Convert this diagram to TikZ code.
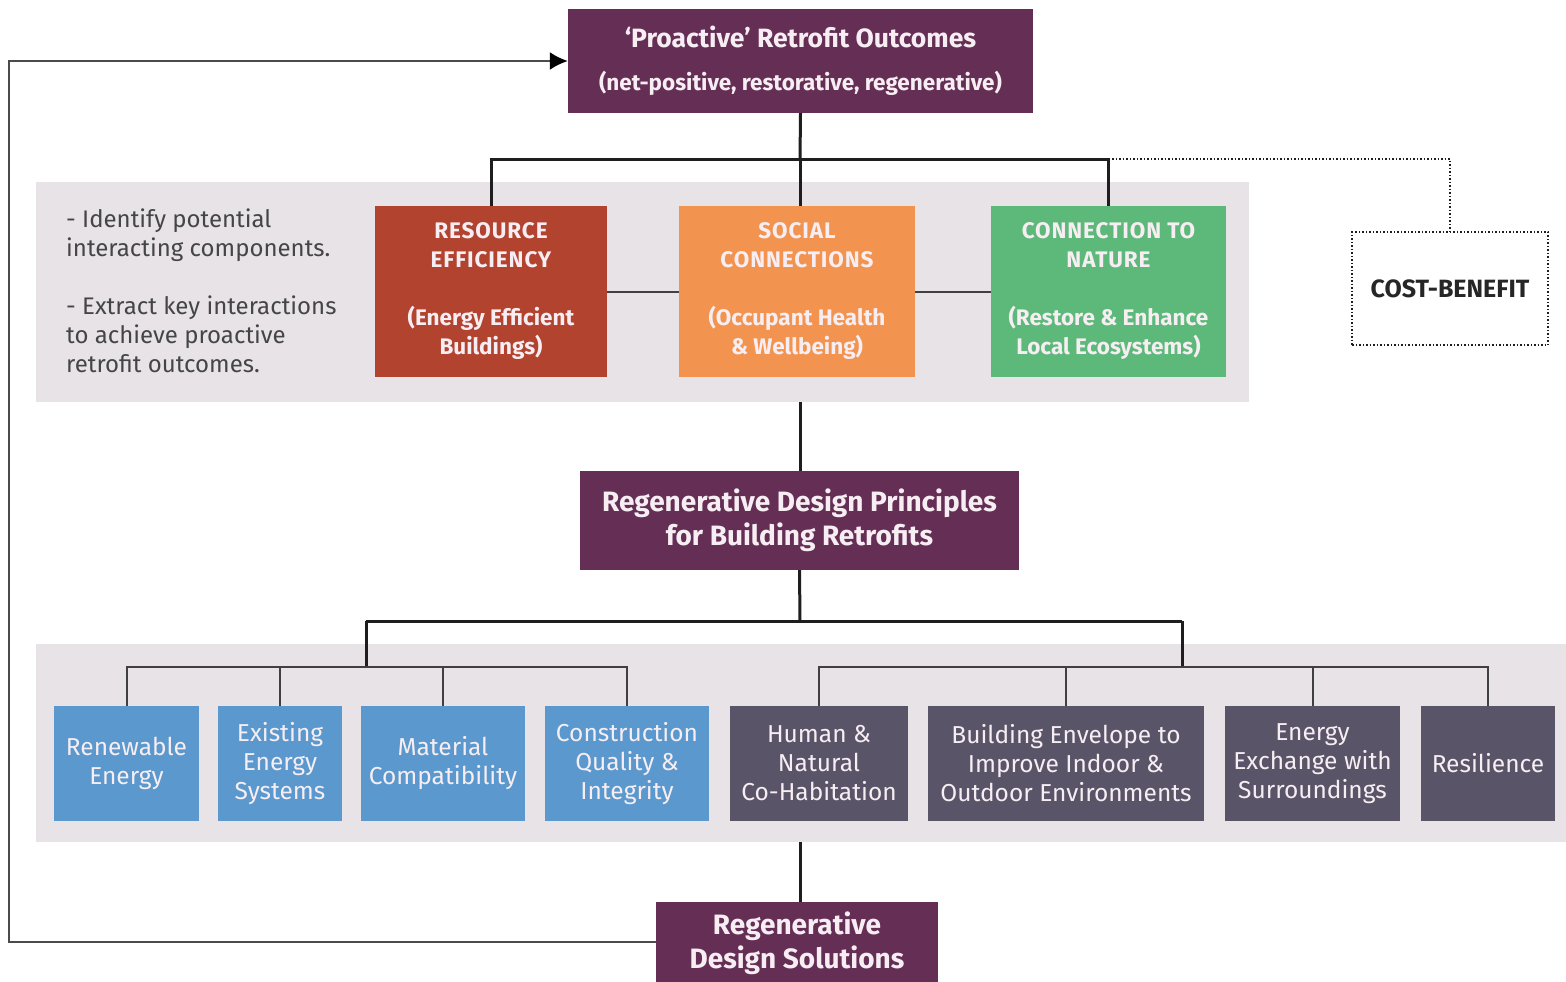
\documentclass[tikz,border=0pt]{standalone}
\usepackage{fontspec}
\setmainfont{Fira Sans}
\usetikzlibrary{arrows.meta}
\definecolor{cpurple}{HTML}{652F55}
\definecolor{cred}{HTML}{B2432F}
\definecolor{corange}{HTML}{F29450}
\definecolor{cgreen}{HTML}{5DB97A}
\definecolor{cblue}{HTML}{5A98CD}
\definecolor{cdark}{HTML}{5A5468}
\definecolor{cband}{HTML}{E7E3E7}
\definecolor{ctext}{HTML}{F7EEF3}
\definecolor{cline}{HTML}{1E1E1E}
\definecolor{cgreytext}{HTML}{454545}
\newcommand{\capsls}[1]{{\addfontfeature{LetterSpace=4}#1}}
\tikzset{
  boxbase/.style={rectangle, inner sep=0pt, align=center, text=ctext},
  purplebox/.style={boxbase, fill=cpurple, font=\fontsize{28}{34}\selectfont\bfseries},
  themebox/.style={boxbase, font=\fontsize{22.5}{29}\selectfont\bfseries},
  smallbox/.style={boxbase, font=\fontsize{24.5}{29}\selectfont, minimum height=115pt},
  bandbox/.style={rectangle, fill=cband, inner sep=0pt},
  mainline/.style={draw=cline, line width=3pt},
  subline/.style={draw=cline!85!white, line width=2pt},
}
\begin{document}
\begin{tikzpicture}[x=1pt,y=-1pt]
\useasboundingbox (0,0) rectangle (1566,982);
\fill[white] (0,0) rectangle (1566,982);
% bands
\node[bandbox, minimum width=1213pt, minimum height=220pt] (band1) at (642.5,292) {};
\node[bandbox, minimum width=1530pt, minimum height=198pt] (band2) at (801,743) {};
% top box
\node[purplebox, minimum width=465pt, minimum height=104pt, font=\fontsize{26.5}{45}\selectfont\bfseries] (top) at (800.5,61)
  {‘Proactive’ Retrofit Outcomes\\[-2pt]{\fontsize{22.5}{24}\selectfont (net-positive, restorative, regenerative)}};
% left text
\node[anchor=north west, align=left, inner sep=0pt, text=cgreytext, font=\fontsize{24}{29}\selectfont] (notes) at (66,209)
  {- Identify potential\\interacting components.\\[29pt]- Extract key interactions\\to achieve proactive\\retrofit outcomes.};
% theme boxes
\node[themebox, fill=cred, minimum width=232pt, minimum height=171pt] (res) at (491,291.5)
  {\capsls{RESOURCE}\\\capsls{EFFICIENCY}\\[29pt](Energy Efficient\\Buildings)};
\node[themebox, fill=corange, minimum width=236pt, minimum height=171pt] (soc) at (797,291.5)
  {\capsls{SOCIAL}\\\capsls{CONNECTIONS}\\[29pt](Occupant Health\\\& Wellbeing)};
\node[themebox, fill=cgreen, minimum width=235pt, minimum height=171pt] (nat) at (1108.5,291.5)
  {\capsls{CONNECTION TO}\\\capsls{NATURE}\\[29pt](Restore \& Enhance\\Local Ecosystems)};
% cost-benefit
\node[rectangle, draw=cline, dotted, line width=1.5pt, minimum width=196pt, minimum height=113pt, font=\fontsize{25}{28}\selectfont\bfseries, text=black!85] (cost) at (1450,288.5) {COST-BENEFIT};
% principles
\node[purplebox, minimum width=439pt, minimum height=99pt] (princ) at (799.5,520.5)
  {Regenerative Design Principles\\for Building Retrofits};
% principle boxes
\node[smallbox, fill=cblue, minimum width=145pt] (b1) at (126.5,763.5) {Renewable\\Energy};
\node[smallbox, fill=cblue, minimum width=124pt] (b2) at (280,763.5) {Existing\\Energy\\Systems};
\node[smallbox, fill=cblue, minimum width=164pt] (b3) at (443,763.5) {Material\\Compatibility};
\node[smallbox, fill=cblue, minimum width=164pt] (b4) at (627,763.5) {Construction\\Quality \&\\Integrity};
\node[smallbox, fill=cdark, minimum width=178pt] (g1) at (819,763.5) {Human \&\\Natural\\Co-Habitation};
\node[smallbox, fill=cdark, minimum width=276pt] (g2) at (1066,763.5) {Building Envelope to\\Improve Indoor \&\\Outdoor Environments};
\node[smallbox, fill=cdark, minimum width=175pt] (g3) at (1312.5,763.5) {Energy\\Exchange with\\Surroundings};
\node[smallbox, fill=cdark, minimum width=134pt] (g4) at (1488,763.5) {Resilience};
% solutions
\node[purplebox, minimum width=282pt, minimum height=82pt] (sol) at (797,943)
  {Regenerative\\Design Solutions};
% junctions
\coordinate (j1) at (800,159);
\coordinate (j2) at (800,621);
\coordinate (jl) at (366,667);
\coordinate (jr) at (1182,667);
\coordinate (fb) at (9,942);
% connectors top
\draw[mainline] (top.south) -- (j1);
\draw[mainline] (res.north) |- (j1) -| (nat.north);
\draw[mainline] (j1) -- (j1 |- soc.north);
\draw[dotted, line width=1.5pt, draw=cline] (nat.north |- j1) -| (cost.north);
\draw[subline] (res.east) -- (soc.west);
\draw[subline] (soc.east) -- (nat.west);
% to principles
\draw[mainline] (j1 |- band1.south) -- (j1 |- princ.north);
\draw[mainline] (princ.south) -- (j2);
\draw[mainline] (jl |- j2) -- (jr |- j2);
\draw[mainline] (jl |- j2) -- (jl);
\draw[mainline] (jr |- j2) -- (jr);
% sub trees
\draw[subline] (b1.north) |- (jl) -| (b4.north);
\draw[subline] (b2.north) -- (b2.north |- jl);
\draw[subline] (b3.north) -- (b3.north |- jl);
\draw[subline] (g1.north) |- (jr) -| (g4.north);
\draw[subline] (g2.north) -- (g2.north |- jr);
\draw[subline] (g3.north) -- (g3.north |- jr);
% to solutions
\draw[mainline] (j1 |- band2.south) -- (j1 |- sol.north);
% feedback
\draw[draw=cline!80!white, line width=2pt, -{Latex[length=18pt,width=18pt,fill=black,color=black]}] (sol.west |- fb) -- (fb) |- (top.west);
\end{tikzpicture}
\end{document}
